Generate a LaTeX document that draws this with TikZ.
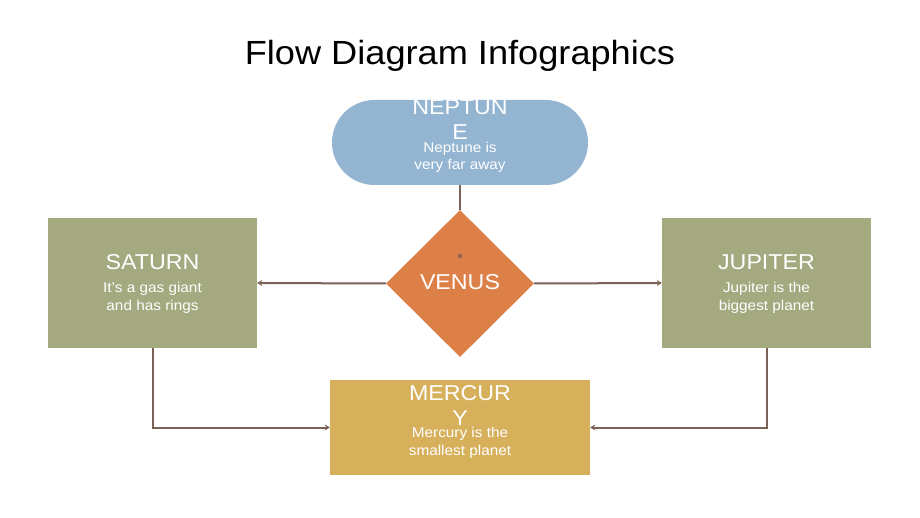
\documentclass[tikz,border=0pt]{standalone}
\usepackage{fontspec}
\setmainfont{Liberation Sans}[FakeStretch=1.08]
\usetikzlibrary{shapes.geometric, arrows.meta}
\definecolor{neptuneblue}{HTML}{93B5D2}
\definecolor{venusorange}{HTML}{DD8047}
\definecolor{planetgreen}{HTML}{A4A97F}
\definecolor{mercurygold}{HTML}{D7B05C}
\definecolor{linkbrown}{HTML}{7B6157}

\begin{document}
\begin{tikzpicture}[x=1pt, y=-1pt,
	box/.style={rectangle, draw=none, inner sep=0pt},
	head/.style={text=white, anchor=base, align=center, inner sep=0pt, font=\fontsize{21.5}{25}\selectfont},
	body/.style={text=white, anchor=base, align=center, inner sep=0pt, font=\fontsize{14.2}{17.5}\selectfont},
	link/.style={draw=linkbrown, line width=2pt},
	linkarrow/.style={link, -{Stealth[length=5pt, width=6pt]}}]
	\useasboundingbox (0,0) rectangle (920,518);
	\node[anchor=base, font=\fontsize{33.5}{36}\selectfont] (title) at (460,65) {Flow Diagram Infographics};
	\node[box, fill=neptuneblue, minimum width=256pt, minimum height=85pt, rounded corners=42.5pt] (neptune) at (460,142.5) {};
	\node[diamond, fill=venusorange, draw=none, inner sep=0pt, minimum width=148pt, minimum height=147pt] (venus) at (460,283.5) {};
	\node[box, fill=planetgreen, minimum width=209pt, minimum height=130pt] (saturn) at (152.5,283) {};
	\node[box, fill=planetgreen, minimum width=209pt, minimum height=130pt] (jupiter) at (766.5,283) {};
	\node[box, fill=mercurygold, minimum width=260pt, minimum height=95pt] (mercury) at (460,427.5) {};
	\fill[linkbrown!80!venusorange] (458,254) rectangle (462,258);
	\node[head] (neptuneT) at (460,140) {NEPTUN\\E};
	\node[body] (neptuneB) at (460,170) {Neptune is\\very far away};
	\node[head] (venusT) at (460,290) {VENUS};
	\node[head] (saturnT) at (152.5,270) {SATURN};
	\node[body] (saturnB) at (152.5,310) {It’s a gas giant\\and has rings};
	\node[head] (jupiterT) at (766.5,270) {JUPITER};
	\node[body] (jupiterB) at (766.5,310) {Jupiter is the\\biggest planet};
	\node[head] (mercuryT) at (460,425) {MERCUR\\Y};
	\node[body] (mercuryB) at (460,455) {Mercury is the\\smallest planet};
	\draw[link] (neptune.south) -- (venus.north);
	\draw[linkarrow] (venus.west) -- (saturn.east);
	\draw[linkarrow] (venus.east) -- (jupiter.west);
	\draw[linkarrow] (saturn.south) |- (mercury.west);
	\draw[linkarrow] (jupiter.south) |- (mercury.east);
\end{tikzpicture}
\end{document}
